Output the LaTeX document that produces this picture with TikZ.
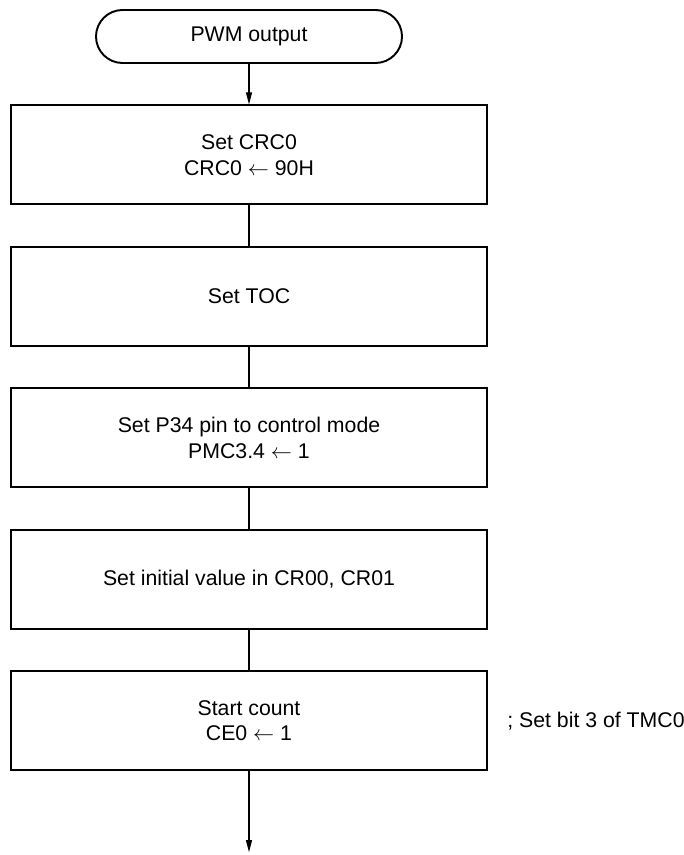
\documentclass[tikz,border=0pt]{standalone}
\usepackage{fontspec}
\setmainfont{Liberation Sans}
\usepackage{tikz}
\usetikzlibrary{arrows.meta,positioning}

\begin{document}
\begin{tikzpicture}[
  node distance=8.1mm,
  every node/.style={font=\fontsize{12.1}{14.6}\selectfont},
  term/.style ={draw=black, line width=1.1pt, rounded corners=5.3mm, minimum width=61.2mm, minimum height=10.6mm, align=center},
  proc/.style ={draw=black, line width=1.1pt, minimum width=95.2mm, minimum height=19.8mm, align=center},
  note/.style ={inner sep=0pt, anchor=west},
  flow/.style ={-{Triangle[length=2.4mm,width=1.2mm]}, line width=0.6pt, black},
  link/.style ={line width=0.6pt, black},
]
  \useasboundingbox (0,0) rectangle (13.66,-17.1);

  \node[term] (pwm) at (4.98,-0.73)          {PWM output};

  \node[proc, below=of pwm]     (crc)        {Set CRC0\\CRC0 $\leftarrow$ 90H};
  \node[proc, below=of crc]     (toc)        {Set TOC};
  \node[proc, below=of toc]     (pmc)        {Set P34 pin to control mode\\PMC3.4 $\leftarrow$ 1};
  \node[proc, below=of pmc]     (cr)         {Set initial value in CR00, CR01};
  \node[proc, below=of cr]      (start)      {Start count\\CE0 $\leftarrow$ 1};

  \node[note, right=3.8mm of start] (bitnote) {; Set bit 3 of TMC0};

  \coordinate[below=16.2mm of start] (out);

  \draw[flow] (pwm)   -- (crc);
  \draw[link] (crc)   -- (toc);
  \draw[link] (toc)   -- (pmc);
  \draw[link] (pmc)   -- (cr);
  \draw[link] (cr)    -- (start);
  \draw[flow] (start) -- (out);
\end{tikzpicture}
\end{document}
